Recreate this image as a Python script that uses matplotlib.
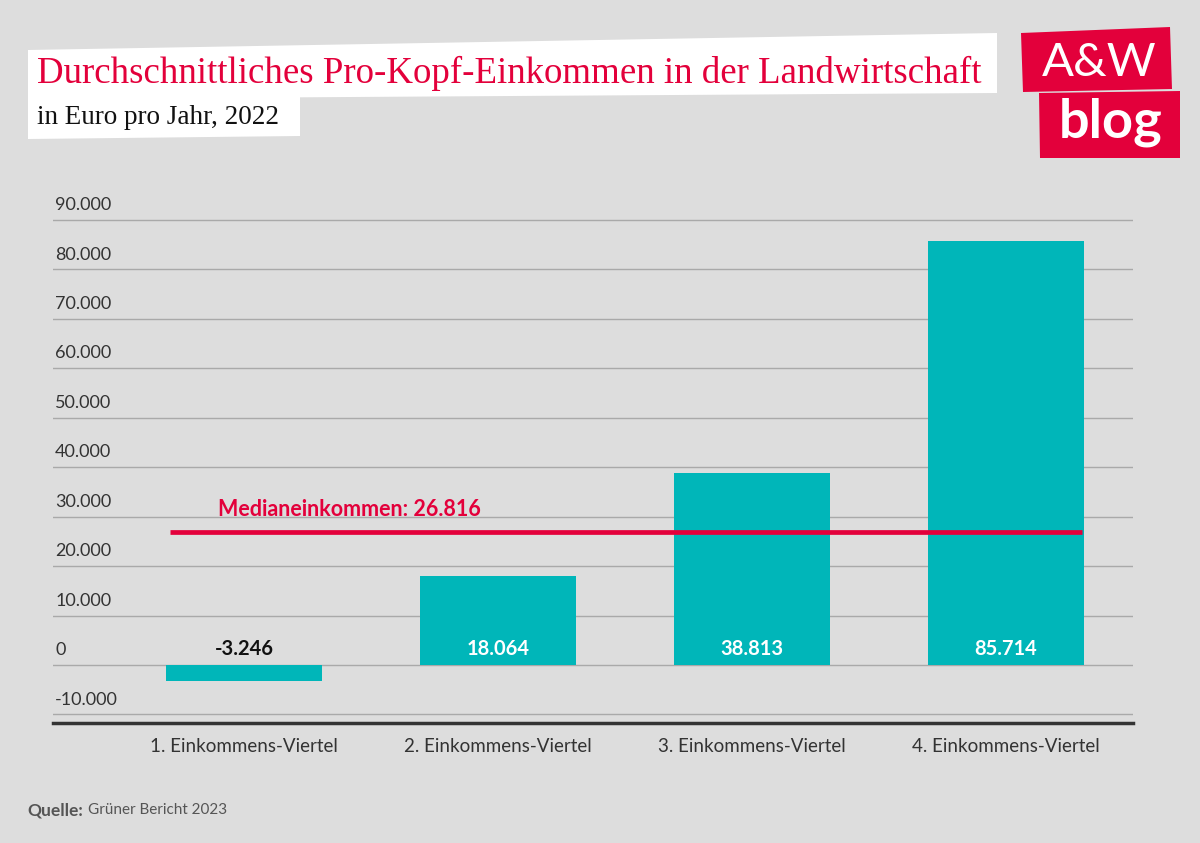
import matplotlib.pyplot as plt
import matplotlib.transforms as mtransforms
from matplotlib.patches import Polygon

# data
categories = ['1. Einkommens-Viertel', '2. Einkommens-Viertel',
              '3. Einkommens-Viertel', '4. Einkommens-Viertel']
values = [-3246, 18064, 38813, 85714]
median = 26816
yticks = [-10000, 0, 10000, 20000, 30000, 40000, 50000, 60000, 70000, 80000, 90000]

BG = '#dddddd'
TEAL = '#00b6b9'
RED = '#e3003b'


def fmt(v):
    return '{:,}'.format(v).replace(',', '.')


fig = plt.figure(figsize=(12, 8.43), dpi=100, facecolor=BG)
ax = fig.add_axes([0.0442, 0.1423, 0.9, 0.626])
ax.set_facecolor(BG)

x = list(range(len(categories)))
ax.bar(x, values, width=0.614, color=TEAL, zorder=3)
ax.set_xlim(-0.752, 3.5)
ax.set_ylim(-11730, 95000)

for s in ['top', 'right', 'left']:
    ax.spines[s].set_visible(False)
ax.spines['bottom'].set_color('#333333')
ax.spines['bottom'].set_linewidth(2.5)
ax.spines['bottom'].set_zorder(6)

# grid lines + labels sitting on them
for t in yticks:
    ax.axhline(t, color='#a9a9a9', lw=1.0, zorder=1)
trans = mtransforms.blended_transform_factory(ax.transAxes, ax.transData)
for t in yticks:
    ax.annotate(fmt(t), xy=(0.002, t), xycoords=trans, xytext=(0, 5),
                textcoords='offset points', ha='left', va='bottom',
                fontsize=13, color='#333333', family='Lato')

# median line
ax.hlines(median, -0.29, 3.30, color=RED, lw=3.4, zorder=4)
ax.text(-0.103, median + 2600, 'Medianeinkommen: ' + fmt(median), color=RED,
        fontsize=15.5, fontweight='bold', family='Lato', ha='left', va='bottom')

# value labels
for xi, v in zip(x, values):
    col = '#111111' if v < 0 else 'white'
    ax.annotate(fmt(v), xy=(xi, 0), xytext=(0, 4), textcoords='offset points',
                ha='center', va='bottom', fontsize=14.5, fontweight='bold',
                color=col, family='Lato', zorder=5)

ax.set_yticks([])
ax.set_xticks(x)
ax.set_xticklabels(categories, fontsize=13.5, color='#333333', family='Lato')
ax.tick_params(axis='x', length=0, pad=11)

# title boxes (slightly skewed white paper strips)
W, H = 1200.0, 843.0


def px(pts):
    return [(a / W, 1 - b / H) for a, b in pts]


fig.patches.append(Polygon(px([(28, 50), (997, 33), (997, 93), (28, 99)]),
                           closed=True, transform=fig.transFigure,
                           facecolor='white', edgecolor='none'))
fig.patches.append(Polygon(px([(28, 97), (300, 96), (300, 136), (28, 139)]),
                           closed=True, transform=fig.transFigure,
                           facecolor='white', edgecolor='none'))
fig.text(37 / W, 1 - 73 / H, 'Durchschnittliches Pro-Kopf-Einkommen in der Landwirtschaft',
         color=RED, fontsize=26.6, family='Liberation Serif', ha='left', va='center')
fig.text(37 / W, 1 - 118 / H, 'in Euro pro Jahr, 2022', color='#111111',
         fontsize=19.5, family='Liberation Serif', ha='left', va='center')

# logo
fig.patches.append(Polygon(px([(1021, 33), (1170, 27), (1172, 89), (1023, 92)]),
                           closed=True, transform=fig.transFigure,
                           facecolor=RED, edgecolor='none'))
fig.patches.append(Polygon(px([(1039, 93), (1180, 91), (1180, 158), (1040, 158)]),
                           closed=True, transform=fig.transFigure,
                           facecolor=RED, edgecolor='none'))
fig.text(1099 / W, 1 - 63 / H, 'A&W', color='white', fontsize=34, family='Lato',
         ha='center', va='center')
fig.text(1111 / W, 1 - 122 / H, 'blog', color='white', fontsize=39,
         fontweight='bold', family='Lato', ha='center', va='center')

# source
fig.text(27 / W, 1 - 810 / H, 'Quelle:', color='#555555', fontsize=12.5,
         fontweight='bold', family='Lato', ha='left', va='center')
fig.text(88 / W, 1 - 810 / H, 'Grüner Bericht 2023', color='#555555', fontsize=11,
         family='Lato', ha='left', va='center')

fig.savefig('out.png', dpi=100, facecolor=BG)
